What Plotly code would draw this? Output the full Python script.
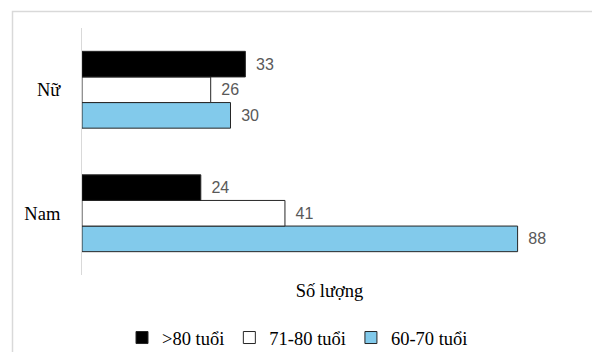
import plotly.graph_objects as go

# Data
genders = ["Nam", "Nữ"]
age_groups = ["60-70 tuổi", "71-80 tuổi", ">80 tuổi"]
counts_60_70 = [88, 30]
counts_71_80 = [41, 26]
counts_over_80 = [24, 33]
colors = ["#82CAEB", "#FFFFFF", "#000000"]

W, H = 592, 352
M_L, M_R, M_T, M_B = 82, 15, 28, 77

fig = go.Figure()
for name, vals, col in zip(age_groups, [counts_60_70, counts_71_80, counts_over_80], colors):
    fig.add_trace(go.Bar(
        y=genders, x=vals, name=name, orientation="h",
        marker=dict(color=col, line=dict(color="#262626", width=1)),
        text=vals, texttemplate="\u00a0\u2009%{x}", textposition="outside",
        textfont=dict(family="Liberation Sans", size=16, color="#595959"),
        constraintext="none", cliponaxis=False,
    ))

# Light outer frame around the chart area
pw, ph = W - M_L - M_R, H - M_T - M_B
def px_x(x):
    return (x - M_L) / pw
def px_y(y):
    return (H - M_B - y) / ph

fig.add_shape(type="rect", xref="paper", yref="paper",
              x0=px_x(12.5), x1=px_x(W + 10), y0=px_y(H + 10), y1=px_y(11.5),
              line=dict(color="#D9D9D9", width=1.5), fillcolor="rgba(0,0,0,0)", layer="above")

serif = "Liberation Serif"
fig.update_layout(
    width=W, height=H,
    margin=dict(l=M_L, r=M_R, t=M_T, b=M_B),
    paper_bgcolor="white", plot_bgcolor="white",
    barmode="group", bargap=0.378, bargroupgap=0,
    font=dict(family=serif, size=18.5, color="black"),
    xaxis=dict(range=[0, 100], showgrid=False, zeroline=False, showline=False,
               showticklabels=False, ticks="",
               title=dict(text="Số lượng", standoff=9,
                          font=dict(family=serif, size=18.5, color="black"))),
    yaxis=dict(categoryorder="array", categoryarray=genders,
               showgrid=False, zeroline=False, showline=True,
               linecolor="#D9D9D9", linewidth=1, ticks="",
               ticklabelstandoff=17,
               tickfont=dict(family=serif, size=18.5, color="black")),
    showlegend=True,
    legend=dict(orientation="h", traceorder="reversed",
                xref="container", yref="container",
                x=122 / W, xanchor="left", y=1 - 338 / H, yanchor="middle",
                font=dict(family=serif, size=18.5, color="black"),
                bgcolor="rgba(0,0,0,0)"),
)

fig.write_html("out.html")
